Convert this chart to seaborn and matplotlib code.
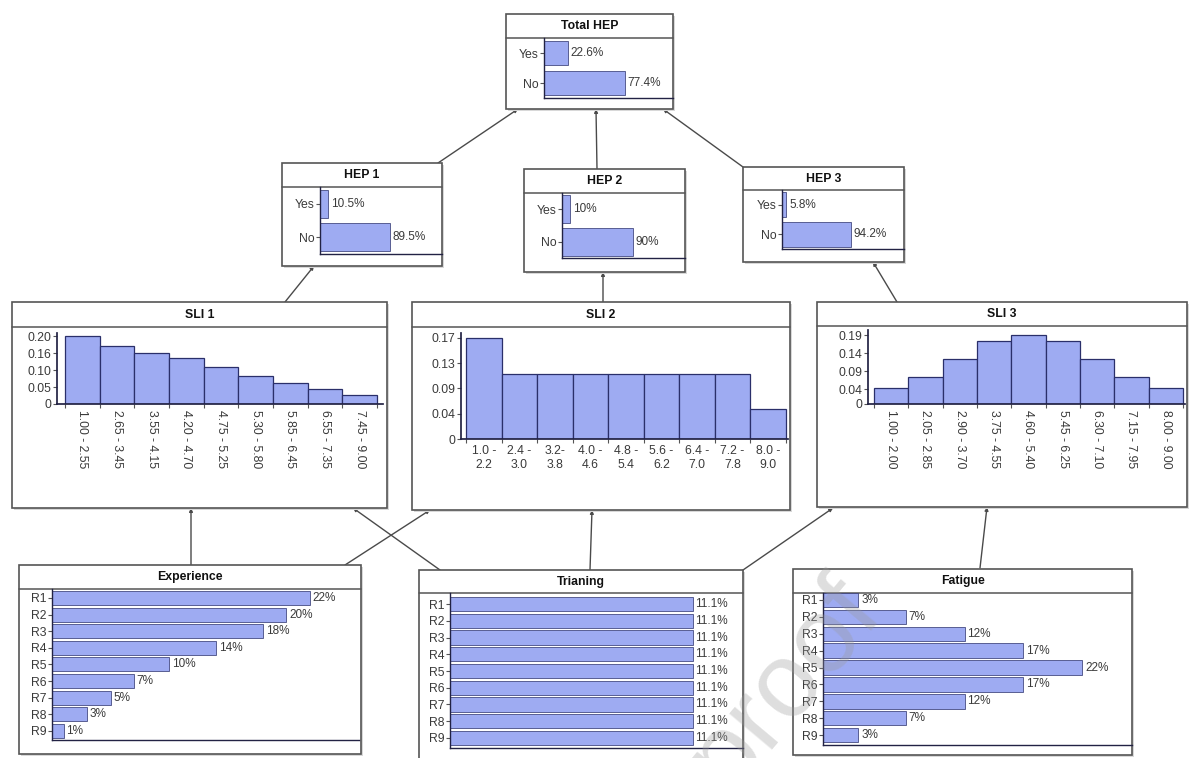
import numpy as np
import pandas as pd
import seaborn as sns
import matplotlib
matplotlib.use("Agg")
import matplotlib.pyplot as plt
from matplotlib.patches import Rectangle, FancyArrowPatch
from matplotlib.lines import Line2D

# ---------------- data ----------------
hep_states = ["Yes", "No"]
total_hep = [22.6, 77.4]
total_hep_labels = ["22.6%", "77.4%"]
hep1 = [10.5, 89.5]
hep1_labels = ["10.5%", "89.5%"]
hep2 = [10.0, 90.0]
hep2_labels = ["10%", "90%"]
hep3 = [5.8, 94.2]
hep3_labels = ["5.8%", "94.2%"]

sli1_bins = ["1.00 - 2.55", "2.65 - 3.45", "3.55 - 4.15", "4.20 - 4.70", "4.75 - 5.25",
             "5.30 - 5.80", "5.85 - 6.45", "6.55 - 7.35", "7.45 - 9.00"]
sli1_vals = [0.200, 0.173, 0.151, 0.136, 0.110, 0.083, 0.062, 0.043, 0.027]
sli1_ticks = [0, 0.05, 0.10, 0.15, 0.20]
sli1_ticklabels = ["0", "0.05", "0.10", "0.16", "0.20"]

sli2_bins = ["1.0 -\n2.2", "2.4 -\n3.0", "3.2-\n3.8", "4.0 -\n4.6", "4.8 -\n5.4",
             "5.6 -\n6.2", "6.4 -\n7.0", "7.2 -\n7.8", "8.0 -\n9.0"]
sli2_vals = [0.170, 0.110, 0.110, 0.110, 0.110, 0.110, 0.110, 0.110, 0.051]
sli2_ticks = [0, 0.0425, 0.085, 0.1275, 0.17]
sli2_ticklabels = ["0", "0.04", "0.09", "0.13", "0.17"]

sli3_bins = ["1.00 - 2.00", "2.05 - 2.85", "2.90 - 3.70", "3.75 - 4.55", "4.60 - 5.40",
             "5.45 - 6.25", "6.30 - 7.10", "7.15 - 7.95", "8.00 - 9.00"]
sli3_vals = [0.045, 0.075, 0.123, 0.173, 0.190, 0.173, 0.123, 0.075, 0.045]
sli3_ticks = [0, 0.04, 0.09, 0.14, 0.19]
sli3_ticklabels = ["0", "0.04", "0.09", "0.14", "0.19"]

rank_states = ["R1", "R2", "R3", "R4", "R5", "R6", "R7", "R8", "R9"]
experience = [22, 20, 18, 14, 10, 7, 5, 3, 1]
experience_labels = ["22%", "20%", "18%", "14%", "10%", "7%", "5%", "3%", "1%"]
training = [11.1, 11.1, 11.1, 11.1, 11.1, 11.1, 11.1, 11.1, 11.1]
training_labels = ["11.1%", "11.1%", "11.1%", "11.1%", "11.1%", "11.1%", "11.1%", "11.1%", "11.1%"]
fatigue = [3, 7, 12, 17, 22, 17, 12, 7, 3]
fatigue_labels = ["3%", "7%", "12%", "17%", "22%", "17%", "12%", "7%", "3%"]

# ---------------- style ----------------
W, H = 1192, 758
sns.set_theme(style="white")
plt.rcParams["font.family"] = ["Liberation Sans", "DejaVu Sans"]
BAR = "#9eabf2"
EDGE = "#2a2f6a"
LINE = "#4a4a4a"
TXT = "#3a3a3a"

fig = plt.figure(figsize=(W / 100, H / 100), dpi=100)
fig.patch.set_facecolor("white")


def fx(x):
    return x / W


def fy(y):
    return 1 - y / H


def add_ax(x0, y0, x1, y1):
    ax = fig.add_axes([fx(x0), fy(y1), (x1 - x0) / W, (y1 - y0) / H])
    ax.patch.set_alpha(0)
    return ax


def node_box(x0, y0, x1, y1, ysep, title):
    # shadow
    fig.add_artist(Rectangle((fx(x0 + 2), fy(y1 + 2)), (x1 - x0) / W, (y1 - y0) / H,
                             transform=fig.transFigure, facecolor="#d8d8d8",
                             edgecolor="none", zorder=-3))
    fig.add_artist(Rectangle((fx(x0), fy(y1)), (x1 - x0) / W, (y1 - y0) / H,
                             transform=fig.transFigure, facecolor="white",
                             edgecolor="#555555", lw=1.2, zorder=-2))
    fig.add_artist(Line2D([fx(x0), fx(x1)], [fy(ysep), fy(ysep)],
                          transform=fig.transFigure, color="#555555", lw=1.1, zorder=-1))
    fig.text(fx((x0 + x1) / 2), fy((y0 + ysep) / 2), title, ha="center", va="center",
             fontsize=8.8, fontweight="bold", color="#111111")


def link(p_from, p_to):
    fig.add_artist(FancyArrowPatch((fx(p_from[0]), fy(p_from[1])), (fx(p_to[0]), fy(p_to[1])),
                                   transform=fig.transFigure, arrowstyle="-|>",
                                   mutation_scale=5, color=LINE, lw=1.0,
                                   shrinkA=0, shrinkB=0, zorder=-4))


def hbar_node(box, ysep, axbox, title, states, vals, labels, xmax, ylim, bar_w):
    node_box(*box, ysep, title)
    ax = add_ax(*axbox)
    df = pd.DataFrame({"state": states, "value": vals})
    sns.barplot(data=df, x="value", y="state", orient="h", color=BAR, saturation=1,
                edgecolor=EDGE, linewidth=0.5, width=bar_w, ax=ax)
    ax.bar_label(ax.containers[0], labels=labels, padding=2, fontsize=8.5, color=TXT)
    ax.set_xlim(0, xmax)
    ax.set_ylim(*ylim)
    ax.set_xlabel("")
    ax.set_ylabel("")
    ax.set_xticks([])
    for s in ["top", "right"]:
        ax.spines[s].set_visible(False)
    ax.spines["left"].set_color("#222244")
    ax.spines["bottom"].set_color("#222244")
    ax.spines["left"].set_linewidth(1.0)
    ax.spines["bottom"].set_linewidth(1.0)
    ax.tick_params(axis="y", length=3, width=0.8, pad=1, labelsize=8.8,
                   labelcolor=TXT, color="#555555", left=True)
    return ax


def hist_node(box, ysep, axbox, title, bins, vals, ticks, ticklabels, xlim, ymax, rot):
    node_box(*box, ysep, title)
    ax = add_ax(*axbox)
    df = pd.DataFrame({"bin": bins, "value": vals})
    sns.barplot(data=df, x="bin", y="value", color=BAR, saturation=1,
                edgecolor=EDGE, linewidth=0.9, width=1.0, ax=ax)
    ax.set_xlim(*xlim)
    ax.set_ylim(0, ymax)
    ax.set_xlabel("")
    ax.set_ylabel("")
    ax.set_yticks(ticks)
    ax.set_yticklabels(ticklabels)
    ax.set_xticks(range(len(bins)))
    if rot:
        ax.set_xticklabels(bins, rotation=-90, ha="center", va="top")
    else:
        ax.set_xticklabels(bins, rotation=0, ha="center", va="top", linespacing=1.3)
    ax.set_xticks(np.arange(len(bins) + 1) - 0.5, minor=True)
    for s in ["top", "right"]:
        ax.spines[s].set_visible(False)
    ax.spines["left"].set_color("#222244")
    ax.spines["bottom"].set_color("#222244")
    ax.tick_params(axis="y", length=3, width=0.8, pad=1, labelsize=8.8,
                   labelcolor=TXT, color="#555555", left=True)
    ax.tick_params(axis="x", which="major", length=0, pad=4, labelsize=8.8, labelcolor=TXT)
    ax.tick_params(axis="x", which="minor", length=3, width=0.8, color="#555555", bottom=True)
    return ax


# ---------------- links ----------------
link((438, 163), (518, 109))
link((597, 169), (596, 109))
link((743, 167), (663, 109))
link((285, 302), (314, 266))
link((603, 302), (603, 272))
link((897, 302), (873, 262))
link((191, 565), (191, 508))
link((345, 565), (430, 510))
link((440, 570), (353, 508))
link((590, 570), (592, 510))
link((743, 570), (833, 508))
link((980, 568), (987, 507))

# ---------------- nodes ----------------
hbar_node((506, 14, 673, 109), 38, (544, 38, 673, 98), "Total HEP",
          hep_states, total_hep, total_hep_labels, 124, (1.5, -0.5), 0.82)
hbar_node((282, 163, 442, 266), 187, (320, 187, 442, 254), "HEP 1",
          hep_states, hep1, hep1_labels, 156, (1.5, -0.5), 0.85)
hbar_node((524, 169, 685, 272), 193, (562, 193, 685, 258), "HEP 2",
          hep_states, hep2, hep2_labels, 156, (1.5, -0.5), 0.85)
hbar_node((743, 167, 904, 262), 190, (782, 190, 904, 249), "HEP 3",
          hep_states, hep3, hep3_labels, 167, (1.5, -0.5), 0.85)

hist_node((12, 302, 387, 508), 327, (57, 333, 383, 404), "SLI 1",
          sli1_bins, sli1_vals, sli1_ticks, sli1_ticklabels, (-0.73, 8.67), 0.21, True)
hist_node((412, 302, 790, 510), 327, (461, 333, 788, 439), "SLI 2",
          sli2_bins, sli2_vals, sli2_ticks, sli2_ticklabels, (-0.64, 8.56), 0.1784, False)
hist_node((817, 302, 1187, 507), 326, (868, 330, 1185, 404), "SLI 3",
          sli3_bins, sli3_vals, sli3_ticks, sli3_ticklabels, (-0.675, 8.56), 0.2038, True)

hbar_node((19, 565, 361, 754), 589, (52, 589, 359, 740), "Experience",
          rank_states, experience, experience_labels, 26.2, (8.55, -0.54), 0.85)
hbar_node((419, 570, 743, 775), 593, (450, 593, 743, 748), "Trianing",
          rank_states, training, training_labels, 13.4, (8.6, -0.66), 0.85)
hbar_node((793, 569, 1132, 755), 593, (823, 593, 1132, 745), "Fatigue",
          rank_states, fatigue, fatigue_labels, 26.2, (8.58, -0.41), 0.85)

# watermark (partly outside the picture, as in the reference)
fig.text(fx(885), fy(615), "Journal Pre-proof", rotation=50, rotation_mode="anchor",
         ha="right", va="baseline", fontsize=76, color="#9a9a9a", alpha=0.32, zorder=10)

fig.savefig("out.png", dpi=100, facecolor="white")
